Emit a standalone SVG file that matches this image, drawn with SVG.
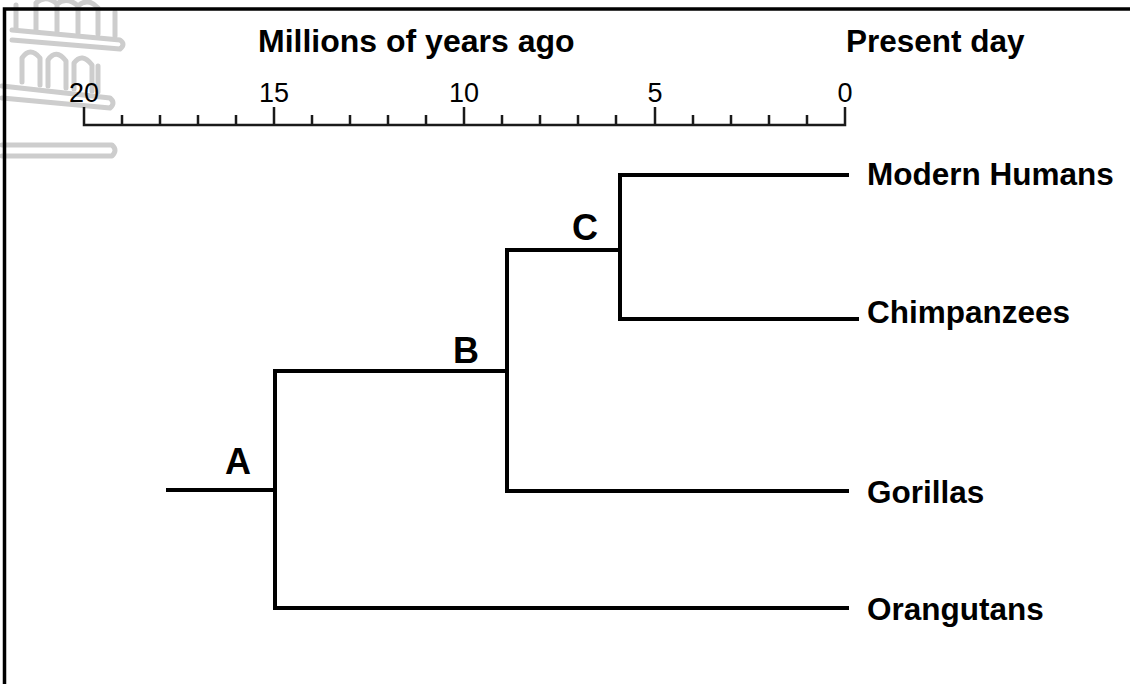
<svg xmlns="http://www.w3.org/2000/svg" width="1130" height="684" viewBox="0 0 1130 684">
<style>
.t{font-family:"Liberation Sans",Arial,sans-serif;font-weight:bold;fill:#000}
.n{font-family:"Liberation Sans",Arial,sans-serif;fill:#000;font-size:27px;text-anchor:middle}
.br{stroke:#000;stroke-width:4;fill:none;stroke-linecap:square}
.ax{stroke:#1a1a1a;stroke-width:2.5;fill:none}
.wm{stroke:#cdcdcd;stroke-width:5;fill:none;stroke-linecap:round;stroke-linejoin:round}
</style>
<rect width="1130" height="684" fill="#fff"/>
<g id="watermark">
<path class="wm" d="M16 28 V5 M36 30 V3 M57 31 V4 M78 33 V6 M98 34 V8 M115 36 V12 M36 3 Q46 -6 57 4 M57 4 Q67 -4 78 6 M78 6 Q88 -3 98 8"/>
<path class="wm" d="M12 30 L120 40 Q126 44 120 49 L12 40"/>
<path class="wm" d="M22 82 V58 Q30 46 40 58 V85 M48 86 V60 Q56 48 66 61 V88 M74 89 V63 Q82 52 92 65 V91 M98 92 V66"/>
<path class="wm" d="M2 86 L110 98 Q116 103 110 108 L2 98"/>
<path class="wm" d="M2 145 H112 Q118 150 112 156 H2"/>
</g>
<g id="frame">
<path d="M4.5 684 V9 H1130" stroke="#000" stroke-width="3.5" fill="none"/>
</g>
<g id="axis">
<text class="t" x="258" y="52" font-size="32">Millions of years ago</text>
<text class="t" x="846" y="52" font-size="31.5">Present day</text>
<text class="n" x="84" y="102">20</text>
<text class="n" x="274" y="102">15</text>
<text class="n" x="464" y="102">10</text>
<text class="n" x="655" y="102">5</text>
<text class="n" x="845" y="102">0</text>
<path class="ax" d="M84 107 V125 H845 V107"/>
<path class="ax" d="M274 107 V125 M464 107 V125 M655 107 V125"/>
<path class="ax" d="M122 115 V125 M160 115 V125 M198 115 V125 M236 115 V125 M312 115 V125 M350 115 V125 M388 115 V125 M426 115 V125 M502 115 V125 M540 115 V125 M578 115 V125 M616 115 V125 M693 115 V125 M731 115 V125 M769 115 V125 M807 115 V125"/>
</g>
<g id="connectors">
<path class="br" d="M168 490 H275"/>
<path class="br" d="M275 371 V608 H847"/>
<path class="br" d="M275 371 H507"/>
<path class="br" d="M507 250 V491 H847"/>
<path class="br" d="M507 250 H620"/>
<path class="br" d="M620 175 V319 H857"/>
<path class="br" d="M620 175 H847"/>
</g>
<g id="node-A"><text class="t" x="238" y="474" font-size="36" text-anchor="middle">A</text></g>
<g id="node-B"><text class="t" x="466" y="363" font-size="36" text-anchor="middle">B</text></g>
<g id="node-C"><text class="t" x="585" y="240" font-size="36" text-anchor="middle">C</text></g>
<g id="node-humans"><text class="t" x="867" y="185" font-size="31.5">Modern Humans</text></g>
<g id="node-chimps"><text class="t" x="867" y="323" font-size="31.5">Chimpanzees</text></g>
<g id="node-gorillas"><text class="t" x="867" y="503" font-size="31.5">Gorillas</text></g>
<g id="node-orangutans"><text class="t" x="867" y="620" font-size="31.5">Orangutans</text></g>
</svg>
